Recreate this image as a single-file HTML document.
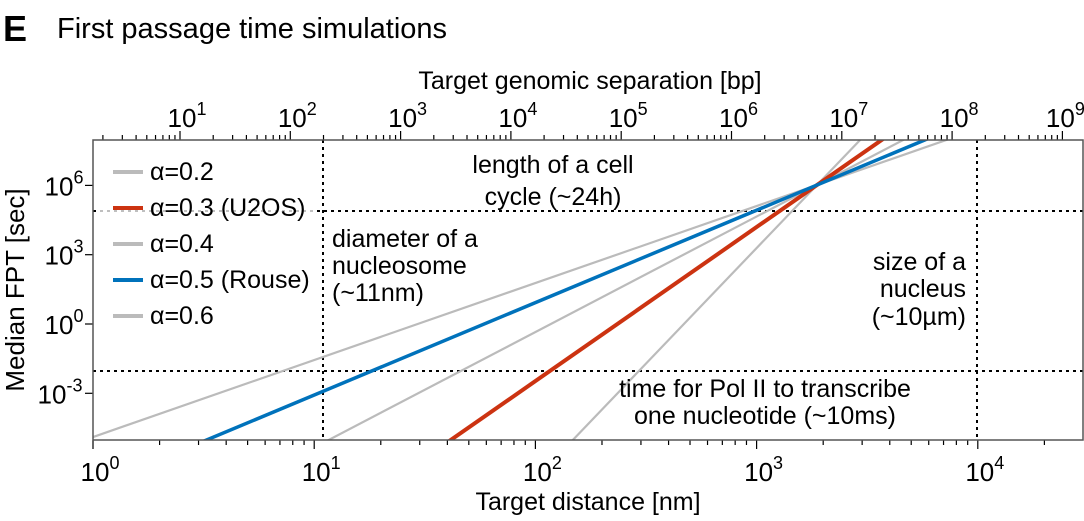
<!DOCTYPE html>
<html><head><style>
html,body{margin:0;background:#fff;overflow:hidden;width:1084px;height:521px;}
svg{display:block;font-family:"Liberation Sans",Arial,sans-serif;}
</style></head><body>
<svg width="1084" height="521" viewBox="0 0 1084 521" xmlns="http://www.w3.org/2000/svg">
<defs><clipPath id="c"><rect x="93" y="140" width="990" height="300"/></clipPath></defs>
<text x="3" y="41" font-size="36" font-weight="bold">E</text>
<text x="57" y="38" font-size="29">First passage time simulations</text>
<text x="590" y="89" font-size="25" text-anchor="middle">Target genomic separation [bp]</text>
<text x="588" y="510" font-size="25" text-anchor="middle">Target distance [nm]</text>
<text transform="translate(24,290) rotate(-90)" font-size="26" text-anchor="middle">Median FPT [sec]</text>
<g id="ticks" stroke="#000" stroke-width="1.2" fill="none"></g>
<g clip-path="url(#c)" fill="none">
<line x1="93" y1="211" x2="1083" y2="211" stroke="#000" stroke-width="2" stroke-dasharray="3,4"/>
<line x1="93" y1="371" x2="1083" y2="371" stroke="#000" stroke-width="2" stroke-dasharray="3,4"/>
<line x1="323" y1="140" x2="323" y2="440" stroke="#000" stroke-width="2" stroke-dasharray="3,4"/>
<line x1="977" y1="140" x2="977" y2="440" stroke="#000" stroke-width="2" stroke-dasharray="3,4"/>
<g id="series"></g>
</g>
<rect x="93" y="140" width="990" height="300" fill="none" stroke="#555" stroke-width="1.5"/>
<g font-size="25">
<text x="553" y="173" text-anchor="middle">length of a cell</text>
<text x="553" y="205" text-anchor="middle">cycle (~24h)</text>
<text x="332" y="247">diameter of a</text>
<text x="332" y="274">nucleosome</text>
<text x="332" y="301">(~11nm)</text>
<text x="966" y="270" text-anchor="end">size of a</text>
<text x="966" y="297" text-anchor="end">nucleus</text>
<text x="966" y="325" text-anchor="end">(~10µm)</text>
<text x="765" y="397" text-anchor="middle">time for Pol II to transcribe</text>
<text x="765" y="424" text-anchor="middle">one nucleotide (~10ms)</text>
</g>
<rect x="100" y="150" width="215" height="182" fill="#fff" fill-opacity="0.75"/>
<g font-size="25">
<line x1="113" y1="172" x2="143" y2="172" stroke="#bbb" stroke-width="4"/><text x="150" y="180">α=0.2</text>
<line x1="113" y1="208" x2="143" y2="208" stroke="#cc3311" stroke-width="4"/><text x="150" y="216">α=0.3 (U2OS)</text>
<line x1="113" y1="244" x2="143" y2="244" stroke="#bbb" stroke-width="4"/><text x="150" y="252">α=0.4</text>
<line x1="113" y1="280" x2="143" y2="280" stroke="#0072bb" stroke-width="4"/><text x="150" y="288">α=0.5 (Rouse)</text>
<line x1="113" y1="316" x2="143" y2="316" stroke="#bbb" stroke-width="4"/><text x="150" y="324">α=0.6</text>
</g>
<g id="labels" font-size="26"></g>
</svg>
<script>
var NS="http://www.w3.org/2000/svg";
function el(p,t,a,txt){var e=document.createElementNS(NS,t);for(var k in a)e.setAttribute(k,a[k]);if(txt!==undefined)e.textContent=txt;p.appendChild(e);return e;}
var tk=document.getElementById('ticks'),lb=document.getElementById('labels'),sr=document.getElementById('series');
function X(l){return 93+221.2*l;} function XT(l){return 180+110.3*(l-1);} function Y(l){return 324-23.1*l;}
function lab(x,y,e){var t=el(lb,'text',{x:x,y:y,'text-anchor':'middle'});var a=document.createElementNS(NS,'tspan');a.textContent='10';t.appendChild(a);var b=document.createElementNS(NS,'tspan');b.setAttribute('font-size','18');b.setAttribute('dy','-12');b.textContent=e;t.appendChild(b);}
for(var d=0;d<=4;d++){for(var m=1;m<10;m++){var l=d+Math.log10(m);var x=X(l);if(x>1083)break;el(tk,'line',{x1:x,y1:440,x2:x,y2:m==1?449:445});}
 lab(X(d)+7,481,d);}
for(var d=0;d<=9;d++){for(var m=1;m<10;m++){var l=d+Math.log10(m);var x=XT(l);if(x<93||x>1083)continue;el(tk,'line',{x1:x,y1:140,x2:x,y2:m==1?131:135});}
 if(d>=1)lab(XT(d)+(d==9?3:7),127,d);}
[6,3,0,-3].forEach(function(e){var y=Y(e);el(tk,'line',{x1:93,y1:y,x2:85,y2:y});lab(e<0?60:64,y+10,e);});
var cx=817,cy=185;
[[10,'#bbb',2.2],[2/0.4,'#bbb',2.2],[2/0.6,'#bbb',2.2],[2/0.3,'#cc3311',4],[4,'#0072bb',3.5]].forEach(function(s){
 var k=s[0]*23.1/221.2;
 el(sr,'line',{x1:cx-800,y1:cy+800*k,x2:cx+800,y2:cy-800*k,stroke:s[1],'stroke-width':s[2]});});
</script>
</body></html>
